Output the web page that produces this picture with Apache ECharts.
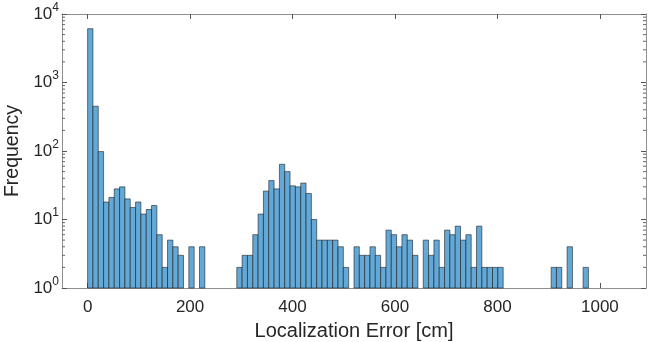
<!DOCTYPE html>
<html>
<head>
<meta charset="utf-8">
<script src="https://cdn.jsdelivr.net/npm/echarts@6/dist/echarts.min.js"></script>
<style>
  html, body { margin: 0; padding: 0; background: #fff; }
  #main { width: 648px; height: 342px; }
</style>
</head>
<body>
<div id="main"></div>
<script>
// histogram data (bin width ~10.4 cm, bins start at 0)
var binWidth = 10.4;
var counts = [
  6100, 450, 98, 18, 21, 28, 30, 20, 15, 18, 12, 14, 16, 6, 2, 5, 4, 3,
  0, 4, 0, 4, 0, 0, 0, 0, 0, 0,
  2, 3, 3, 6, 12, 26, 37, 28, 64, 50, 31, 30, 34, 24, 10, 5, 5, 5, 5, 4, 2,
  0,
  4, 3, 3, 4, 3, 2, 7, 6, 4, 6, 5, 3,
  0,
  5, 3, 5, 2, 7, 6, 8, 5, 6, 2, 8, 2, 2, 2, 2,
  0, 0, 0, 0, 0, 0, 0, 0, 0,
  2, 2, 0, 4, 0, 0, 2
];
var xTicks = [0, 200, 400, 600, 800, 1000];
var yMin = 1, yMax = 10000;

var textColor = '#262626';
var frameColor = '#8f8f8f';
var font = 'Liberation Sans, Arial, sans-serif';

// bars: [start, end, count]
var bars = [];
counts.forEach(function (c, i) {
  if (c > 0) bars.push([i * binWidth, (i + 1) * binWidth, c]);
});

// log minor tick values
var minorVals = [];
for (var d = 1; d < yMax; d *= 10) {
  for (var k = 2; k <= 9; k++) minorVals.push([0, k * d]);
}

var myChart = echarts.init(document.getElementById('main'));
var option = {
  animation: false,
  grid: { left: 62, right: 2, top: 14, bottom: 54, outerBoundsMode: 'none', containLabel: false },
  xAxis: [{
    type: 'value', min: -50, max: 1090, position: 'bottom',
    name: 'Localization Error [cm]', nameLocation: 'middle', nameGap: 33,
    nameTextStyle: { color: textColor, fontSize: 20, fontFamily: font },
    axisLine: { show: true, onZero: false, lineStyle: { color: frameColor, width: 1 } },
    axisTick: { show: true, inside: true, length: 5, customValues: xTicks, lineStyle: { color: '#555' } },
    axisLabel: {
      customValues: xTicks, color: textColor, fontSize: 17, fontFamily: font, margin: 11,
      formatter: function (v) { return String(v); }
    },
    splitLine: { show: false }
  }, {
    type: 'value', min: -50, max: 1090, position: 'top',
    axisLine: { show: true, onZero: false, lineStyle: { color: frameColor, width: 1 } },
    axisTick: { show: true, inside: true, length: 5, customValues: xTicks, lineStyle: { color: '#555' } },
    axisLabel: { show: false },
    splitLine: { show: false }
  }],
  yAxis: [{
    type: 'log', min: yMin, max: yMax, logBase: 10, position: 'left',
    name: 'Frequency', nameLocation: 'middle', nameGap: 37,
    nameTextStyle: { color: textColor, fontSize: 19.5, fontFamily: font },
    axisLine: { show: true, onZero: false, lineStyle: { color: frameColor, width: 1 } },
    axisTick: { show: true, inside: true, length: 5, lineStyle: { color: '#555' } },
    axisLabel: {
      margin: 3,
      formatter: function (v) {
        return '{b|10}{s|' + Math.round(Math.log10(v)) + '}';
      },
      rich: {
        b: { color: textColor, fontSize: 17, fontFamily: font, lineHeight: 17 },
        s: { color: textColor, fontSize: 12, fontFamily: font, lineHeight: 12, padding: [0, 0, 13, 0] }
      }
    },
    splitLine: { show: false }
  }, {
    type: 'log', min: yMin, max: yMax, logBase: 10, position: 'right',
    axisLine: { show: true, onZero: false, lineStyle: { color: frameColor, width: 1 } },
    axisTick: { show: true, inside: true, length: 5, lineStyle: { color: '#555' } },
    axisLabel: { show: false },
    splitLine: { show: false }
  }],
  series: [{
    type: 'custom',
    xAxisIndex: 0, yAxisIndex: 0,
    encode: { x: [0, 1], y: 2 },
    data: bars,
    renderItem: function (params, api) {
      var p0 = api.coord([api.value(0), api.value(2)]);
      var p1 = api.coord([api.value(1), yMin]);
      return {
        type: 'rect',
        shape: { x: p0[0], y: p0[1], width: p1[0] - p0[0], height: p1[1] - p0[1] },
        style: { fill: '#63a9d8', stroke: 'rgba(20,20,20,0.8)', lineWidth: 0.7 }
      };
    }
  }, {
    type: 'custom',
    xAxisIndex: 0, yAxisIndex: 0,
    encode: { x: 0, y: 1 },
    data: minorVals,
    silent: true,
    renderItem: function (params, api) {
      var y = api.coord([0, api.value(1)])[1];
      var cs = params.coordSys;
      var st = { stroke: '#666', lineWidth: 1 };
      return {
        type: 'group',
        children: [
          { type: 'line', shape: { x1: cs.x, y1: y, x2: cs.x + 3, y2: y }, style: st },
          { type: 'line', shape: { x1: cs.x + cs.width, y1: y, x2: cs.x + cs.width - 3, y2: y }, style: st }
        ]
      };
    }
  }]
};
myChart.setOption(option);
</script>
</body>
</html>
